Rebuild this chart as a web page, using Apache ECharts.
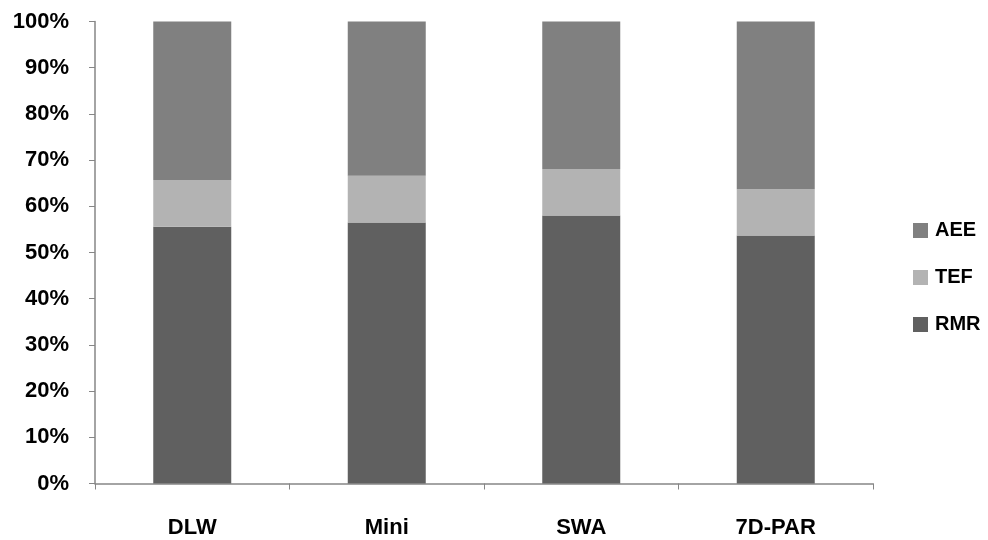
<!DOCTYPE html>
<html><head><meta charset="utf-8">
<script src="https://cdn.jsdelivr.net/npm/echarts@6/dist/echarts.min.js"></script>
<style>html,body{margin:0;padding:0;background:#fff}#c{width:988px;height:540px}</style>
</head><body><div id="c"></div>
<script>
const categories = ['DLW', 'Mini', 'SWA', '7D-PAR'];
const rmr = [55.6, 56.5, 58.0, 53.7];
const tef = [10.1, 10.1, 10.1, 10.0];
const aee = [34.3, 33.4, 31.9, 36.3];
const yTicks = [0, 10, 20, 30, 40, 50, 60, 70, 80, 90, 100];

const font = '"Liberation Sans", Arial, sans-serif';
const chart = echarts.init(document.getElementById('c'));
chart.setOption({
  animation: false,
  grid: {left: 95, right: 115, top: 21.5, bottom: 56.5, containLabel: false},
  legend: {
    orient: 'vertical', left: 908, top: 215.5, itemGap: 27,
    itemWidth: 15, itemHeight: 15, icon: 'rect',
    data: ['AEE', 'TEF', 'RMR'],
    textStyle: {fontFamily: font, fontWeight: 'bold', fontSize: 20, color: '#000', padding: [0, 0, 0, 2]}
  },
  xAxis: {
    type: 'category', data: categories,
    axisLine: {lineStyle: {color: '#868686', width: 1.5}},
    axisTick: {show: true, length: 6, inside: false, lineStyle: {color: '#868686'}},
    axisLabel: {fontFamily: font, fontWeight: 'bold', fontSize: 22, color: '#000', margin: 33}
  },
  yAxis: {
    type: 'value', min: 0, max: 100, interval: 10,
    axisLine: {show: true, lineStyle: {color: '#868686', width: 1.5}},
    axisTick: {show: true, length: 6, lineStyle: {color: '#868686'}},
    splitLine: {show: false},
    axisLabel: {fontFamily: font, fontWeight: 'bold', fontSize: 22, color: '#000', margin: 26,
      formatter: v => yTicks.includes(v) ? v + '%' : ''}
  },
  series: [
    {name: 'RMR', type: 'bar', stack: 's', data: rmr, barWidth: 78, itemStyle: {color: '#606060'}},
    {name: 'TEF', type: 'bar', stack: 's', data: tef, barWidth: 78, itemStyle: {color: '#b3b3b3'}},
    {name: 'AEE', type: 'bar', stack: 's', data: aee, barWidth: 78, itemStyle: {color: '#808080'}}
  ]
});
</script></body></html>
